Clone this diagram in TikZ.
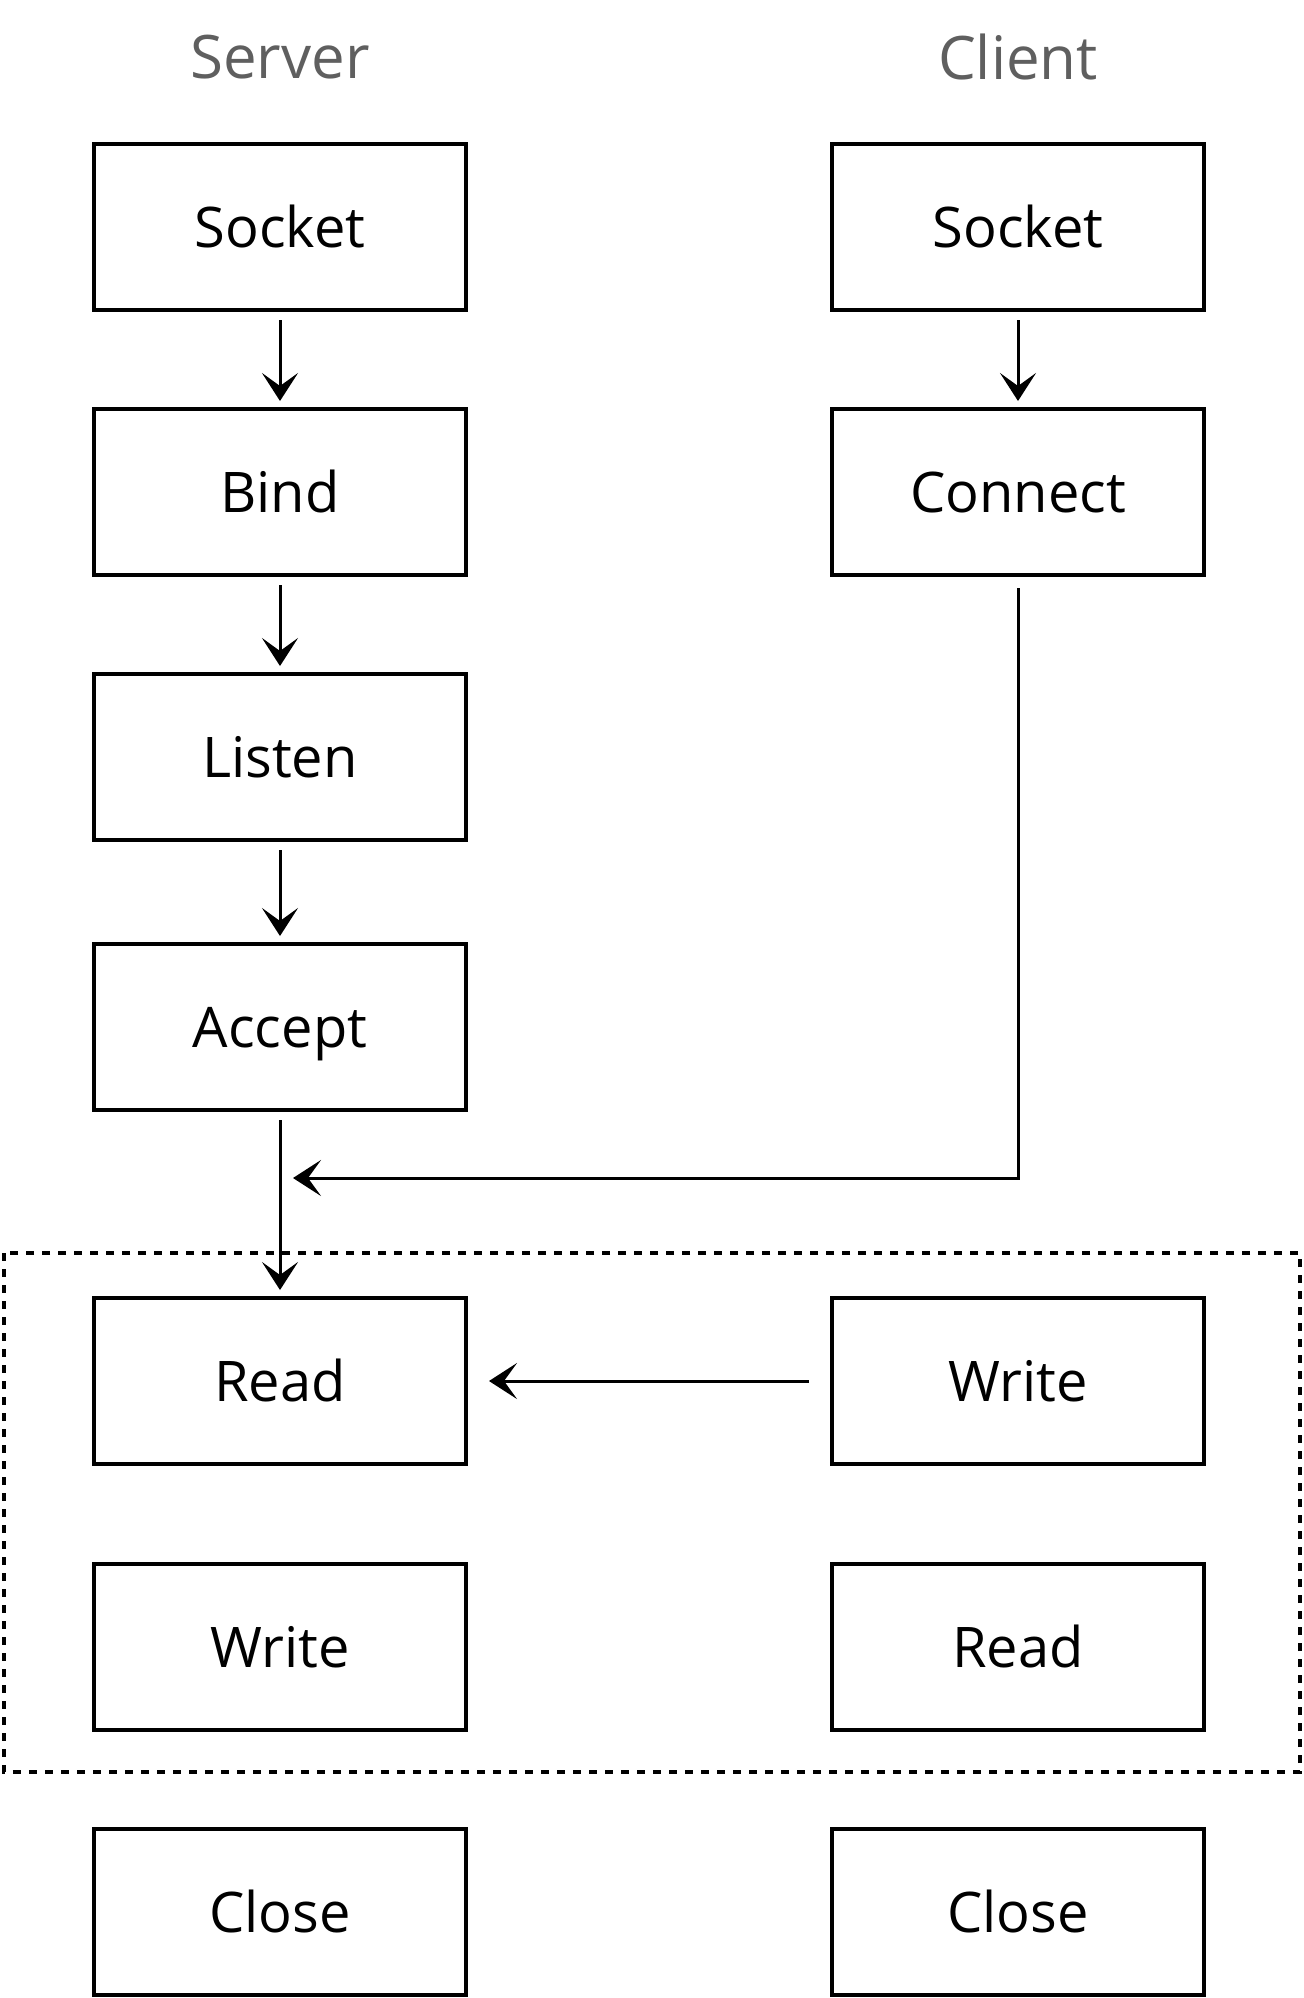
\documentclass[tikz,border=0pt]{standalone}
\usepackage{fontspec}
\setmainfont{Open Sans}
\usetikzlibrary{arrows.meta}
\definecolor{titlegray}{RGB}{95, 95, 95}

\begin{document}
\begin{tikzpicture}[x=1pt,y=-1pt,
    stage/.style={draw,line width=4pt,minimum width=372pt,minimum height=166pt,
      inner sep=0pt,font=\fontsize{56}{60}\selectfont,text height=40pt,text depth=0pt},
    title/.style={font=\fontsize{60}{64}\selectfont,text=titlegray},
    flow/.style={line width=3pt,-{Stealth[length=28pt,width=36pt,inset=13pt]},
      shorten <=8pt,shorten >=6pt},
    groupbox/.style={line width=3.3pt,dash pattern=on 8pt off 8pt}]
    \useasboundingbox (0,0) rectangle (1304,1998);

    % Titles
    \node[title] (serverTitle) at (280,57) {Server};
    \node[title] (clientTitle) at (1018,57) {Client};

    % Server side
    \node[stage] (sSocket) at (280,227) {Socket};
    \node[stage] (sBind) at (280,492) {Bind};
    \node[stage] (sListen) at (280,757) {Listen};
    \node[stage] (sAccept) at (280,1027) {Accept};
    \node[stage] (sRead) at (280,1381) {Read};
    \node[stage] (sWrite) at (280,1647) {Write};
    \node[stage] (sClose) at (280,1912) {Close};

    % Client side
    \node[stage] (cSocket) at (1018,227) {Socket};
    \node[stage] (cConnect) at (1018,492) {Connect};
    \node[stage] (cWrite) at (1018,1381) {Write};
    \node[stage] (cRead) at (1018,1647) {Read};
    \node[stage] (cClose) at (1018,1912) {Close};

    % Data exchange group
    \draw[groupbox] (4,1253) rectangle (1300,1772);

    % Server flow
    \draw[flow] (sSocket) -- (sBind);
    \draw[flow] (sBind) -- (sListen);
    \draw[flow] (sListen) -- (sAccept);
    \draw[flow] (sAccept) -- (sRead);

    % Client flow
    \draw[flow] (cSocket) -- (cConnect);
    \coordinate (meet) at (293,1178);
    \draw[flow,shorten <=11pt,shorten >=0pt] (cConnect.south) |- (meet);
    \draw[flow,shorten <=21pt,shorten >=21pt] (cWrite.west) -- (sRead.east);
\end{tikzpicture}
\end{document}
